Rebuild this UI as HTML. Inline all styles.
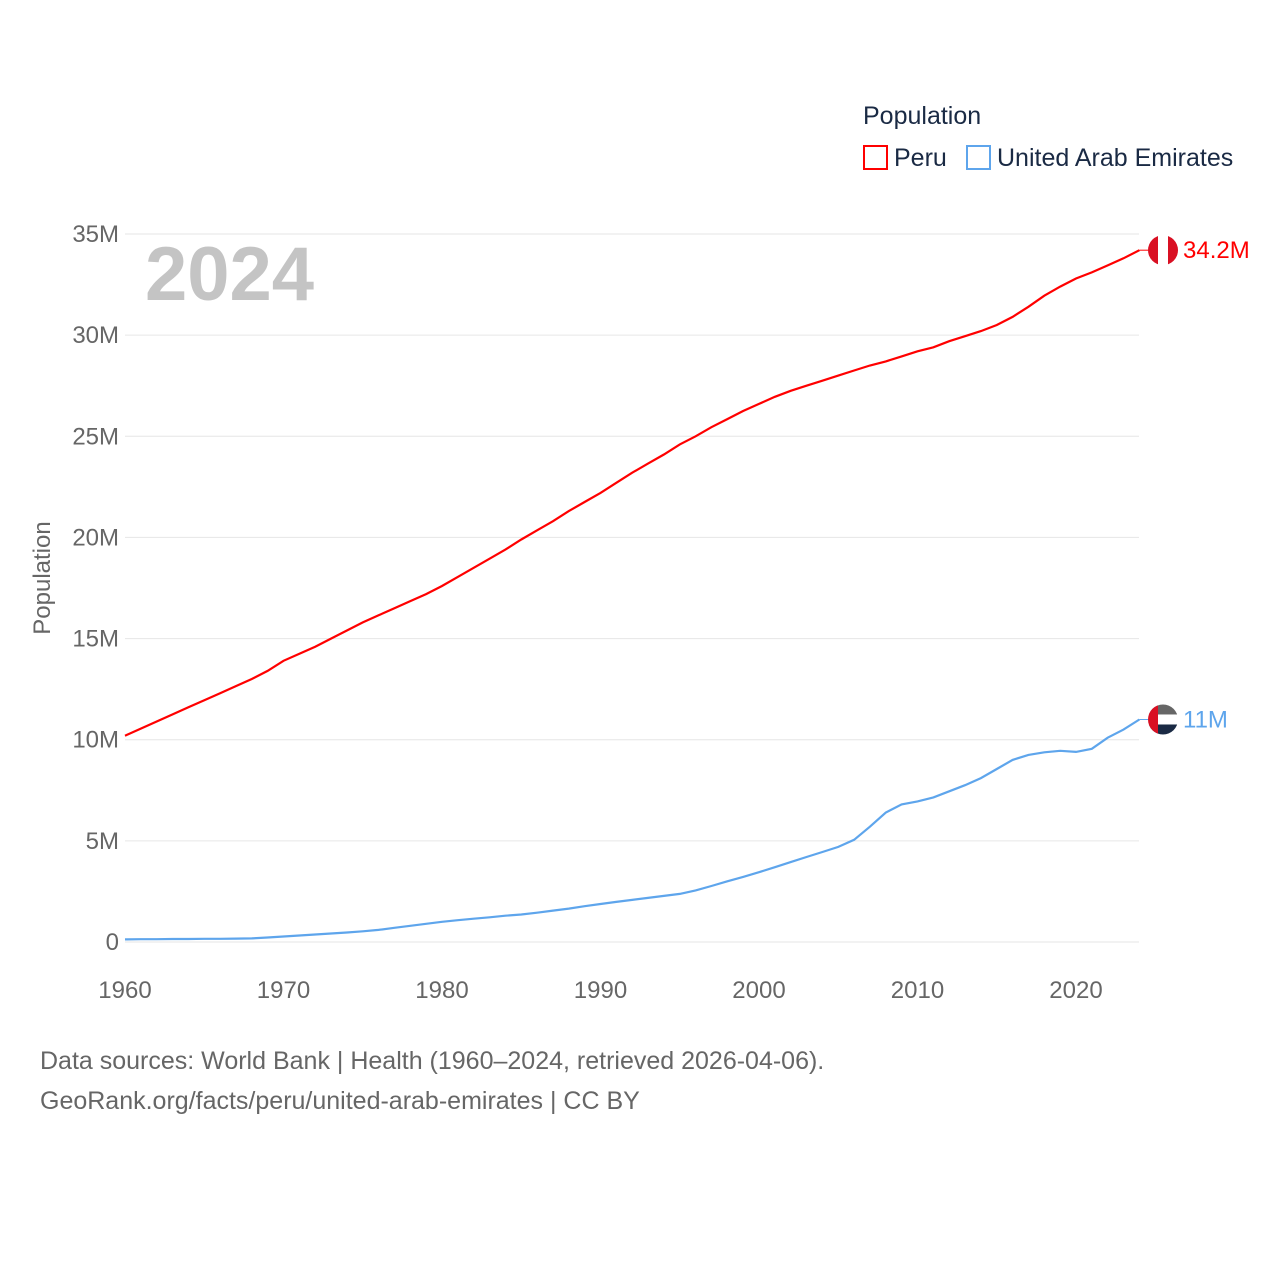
<!DOCTYPE html>
<html><head><meta charset="utf-8"><style>
body{margin:0;background:#fff;}
svg text{font-family:"Liberation Sans",sans-serif;}
</style></head><body>
<svg id="chart" width="1280" height="1280" viewBox="0 0 1280 1280">
<g>
<text x="863" y="124" font-size="25" fill="#1a2a44">Population</text>
<rect x="864" y="146" width="23" height="23" fill="none" stroke="#f00" stroke-width="2"/>
<text x="894" y="166" font-size="25" fill="#1a2a44">Peru</text>
<rect x="967" y="146" width="23" height="23" fill="none" stroke="#5ea5ec" stroke-width="2"/>
<text x="997" y="166" font-size="25" fill="#1a2a44">United Arab Emirates</text>
</g>
<text x="145" y="300" font-size="76" font-weight="bold" fill="#c4c4c4">2024</text>
<text transform="translate(50,578) rotate(-90)" text-anchor="middle" font-size="24" fill="#666">Population</text>
<g id="grid"></g><g id="xt"></g><g id="lines"></g>
<text x="40" y="1069" font-size="25" fill="#666">Data sources: World Bank | Health (1960–2024, retrieved 2026-04-06).</text>
<text x="40" y="1109" font-size="25" fill="#666">GeoRank.org/facts/peru/united-arab-emirates | CC BY</text>
</svg>
<script>
const years=[];for(let y=1960;y<=2024;y++)years.push(y);
const peru=[10.2,10.55,10.9,11.25,11.6,11.95,12.3,12.65,13.0,13.4,13.9,14.25,14.6,15.0,15.4,15.8,16.15,16.5,16.85,17.2,17.6,18.05,18.5,18.95,19.4,19.9,20.35,20.8,21.3,21.75,22.2,22.7,23.2,23.65,24.1,24.6,25.0,25.45,25.85,26.25,26.6,26.95,27.25,27.5,27.75,28.0,28.25,28.5,28.7,28.95,29.2,29.4,29.7,29.95,30.2,30.5,30.9,31.4,31.95,32.4,32.8,33.1,33.45,33.8,34.2];
const uae=[0.13,0.14,0.14,0.15,0.15,0.16,0.16,0.17,0.18,0.22,0.27,0.32,0.37,0.42,0.47,0.53,0.6,0.7,0.8,0.9,1.0,1.08,1.15,1.22,1.3,1.36,1.45,1.55,1.65,1.77,1.88,1.98,2.08,2.18,2.28,2.38,2.55,2.77,3.0,3.22,3.45,3.7,3.95,4.2,4.45,4.7,5.05,5.7,6.4,6.8,6.95,7.15,7.45,7.75,8.1,8.55,9.0,9.25,9.38,9.45,9.4,9.55,10.1,10.5,11.0];
const yTicks=[0,5,10,15,20,25,30,35];
const yTickLabels=["0","5M","10M","15M","20M","25M","30M","35M"];
const xTicks=[1960,1970,1980,1990,2000,2010,2020];
const ns="http://www.w3.org/2000/svg";
const X=y=>125+(y-1960)*(951/60);
const Y=v=>942-v*(708/35);
function mk(tag,attrs,parent){const e=document.createElementNS(ns,tag);for(const k in attrs)e.setAttribute(k,attrs[k]);parent.appendChild(e);return e;}
const grid=document.getElementById('grid');
yTicks.forEach((v,i)=>{
 const l=mk('line',{x1:125,x2:1139,y1:Y(v),y2:Y(v),stroke:'#e6e6e6','stroke-width':1},grid);
 
 
 const t=mk('text',{x:119,y:Y(v)+8,'text-anchor':'end','font-size':24,fill:'#666'},grid);
 t.textContent=yTickLabels[i];
 
 
});
const xt=document.getElementById('xt');
xTicks.forEach(y=>{
 const t=mk('text',{x:X(y),y:998,'text-anchor':'middle','font-size':24,fill:'#666'},xt);
 t.textContent=y;
 
 
});
const lines=document.getElementById('lines');
function series(vals,color,name,label){
 const d=vals.map((v,i)=>(i?'L':'M')+X(years[i]).toFixed(1)+','+Y(v).toFixed(1)).join('');
 const p=mk('path',{d:d,fill:'none',stroke:color,'stroke-width':2.2},lines);
 
 
 const lv=vals[vals.length-1],ly=Y(lv),lx=X(2024);
 mk('line',{x1:lx,x2:lx+10,y1:ly,y2:ly,stroke:color,'stroke-width':1},lines);
 const t=mk('text',{x:1183,y:ly+8,'font-size':24,fill:color},lines);
 t.textContent=label;
 
 
 return ly;
}
const py=series(peru,'#f00','peru','34.2M');
const uy=series(uae,'#5ea5ec','uae','11M');
function flag(cy,name,parts){
 const g=mk('g',{},lines);
 
 
 const id='c'+name;
 const cp=mk('clipPath',{id:id},g);mk('circle',{cx:1163,cy:cy,r:15},cp);
 parts.forEach(p=>mk('rect',Object.assign({'clip-path':'url(#'+id+')'},p(cy)),g));
}
flag(py,'peru-flag',[c=>({x:1148,y:c-15,width:30,height:30,fill:'#fff'}),c=>({x:1148,y:c-15,width:10,height:30,fill:'#d91023'}),c=>({x:1168,y:c-15,width:10,height:30,fill:'#d91023'})]);
flag(uy,'uae-flag',[c=>({x:1148,y:c-15,width:30,height:10,fill:'#666'}),c=>({x:1148,y:c-5,width:30,height:10,fill:'#fff'}),c=>({x:1148,y:c+5,width:30,height:10,fill:'#1a2a44'}),c=>({x:1148,y:c-15,width:10,height:30,fill:'#d91023'})]);
</script>
</body></html>
